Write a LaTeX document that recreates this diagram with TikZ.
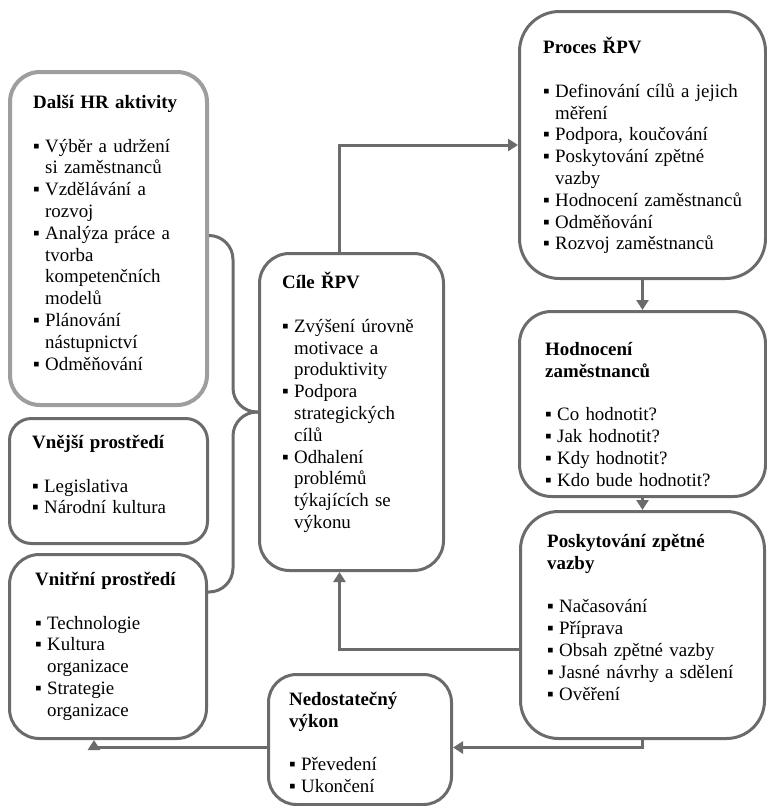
\documentclass[tikz,border=0pt]{standalone}
\usepackage{fontspec}
\setmainfont{Liberation Serif}
\usetikzlibrary{arrows.meta,positioning}

\definecolor{rama}{HTML}{6B6B6B}
\definecolor{svetla}{HTML}{9E9E9E}

% nadpis ramecku a odrazka
\newcommand{\nadpis}[1]{\strut\textbf{#1}\par\vspace{21.8pt}}
\newcommand{\pol}[1]{\par\noindent\hangindent=12pt\hangafter=1\makebox[12pt][l]{▪}#1\par}

\tikzset{
  ramec/.style={draw=rama,line width=3pt,rounded corners=30pt,anchor=north west,inner sep=0pt},
  popis/.style={anchor=north west,inner sep=0pt,text width=240pt,align=left,
    font=\fontsize{18.9pt}{21.8pt}\selectfont},
  sipka/.style={draw=rama,line width=3pt,-{Triangle[length=10pt,width=12pt]}},
  spoj/.style={draw=rama,line width=3pt}
}

\begin{document}
\begin{tikzpicture}[x=1pt,y=-1pt]
\useasboundingbox (0,0) rectangle (767,806);

% ramecky
\node[ramec,draw=svetla,line width=4pt,minimum width=197,minimum height=333] (hr) at (8,70) {};
\node[ramec,rounded corners=22pt,minimum width=198,minimum height=125] (vnejsi) at (8,417) {};
\node[ramec,minimum width=197,minimum height=184] (vnitrni) at (8,553) {};
\node[ramec,minimum width=184,minimum height=317] (cile) at (258,252) {};
\node[ramec,rounded corners=40pt,minimum width=246,minimum height=267] (proces) at (518,10) {};
\node[ramec,rounded corners=32pt,minimum width=246,minimum height=185] (hodn) at (518,310) {};
\node[ramec,rounded corners=38pt,minimum width=244,minimum height=227] (zpetna) at (519,510) {};
\node[ramec,rounded corners=28pt,minimum width=183,minimum height=130] (nedost) at (267,673) {};

% texty
\node[popis] (hrt) at ([shift={(25,23)}]hr.north west) {\nadpis{Další HR aktivity}
\pol{Výběr a udržení\newline si zaměstnanců}
\pol{Vzdělávání a\newline rozvoj}
\pol{Analýza práce a\newline tvorba\newline kompetenčních\newline modelů}
\pol{Plánování\newline nástupnictví}
\pol{Odměňování}};
\node[popis] (vnejsit) at ([shift={(24,16)}]vnejsi.north west) {\nadpis{Vnější prostředí}
\pol{Legislativa}
\pol{Národní kultura}};
\node[popis] (vnitrnit) at ([shift={(27,17)}]vnitrni.north west) {\nadpis{Vnitřní prostředí}
\pol{Technologie}
\pol{Kultura\newline organizace}
\pol{Strategie\newline organizace}};
\node[popis] (cilet) at ([shift={(24,20)}]cile.north west) {\nadpis{Cíle ŘPV}
\pol{Zvýšení úrovně\newline motivace a\newline produktivity}
\pol{Podpora\newline strategických\newline cílů}
\pol{Odhalení\newline problémů\newline týkajících se\newline výkonu}};
\node[popis] (procest) at ([shift={(25,27)}]proces.north west) {\nadpis{Proces ŘPV}
\pol{Definování cílů a jejich\newline měření}
\pol{Podpora, koučování}
\pol{Poskytování zpětné\newline vazby}
\pol{Hodnocení zaměstnanců}
\pol{Odměňování}
\pol{Rozvoj zaměstnanců}};
\node[popis] (hodnt) at ([shift={(27,30)}]hodn.north west) {\nadpis{Hodnocení\newline zaměstnanců}
\pol{Co hodnotit?}
\pol{Jak hodnotit?}
\pol{Kdy hodnotit?}
\pol{Kdo bude hodnotit?}};
\node[popis] (zpetnat) at ([shift={(28,22)}]zpetna.north west) {\nadpis{Poskytování zpětné\newline vazby}
\pol{Načasování}
\pol{Příprava}
\pol{Obsah zpětné vazby}
\pol{Jasné návrhy a sdělení}
\pol{Ověření}};
\node[popis] (nedostt) at ([shift={(22,17)}]nedost.north west) {\nadpis{Nedostatečný\newline výkon}
\pol{Převedení}
\pol{Ukončení}};

% sipky
\draw[sipka] ([xshift=-12pt]cile.north) |- (proces.west);
\draw[sipka] (proces.south) -- (hodn.north);
\draw[sipka] (hodn.south) -- (zpetna.north);
\draw[sipka] ([yshift=-24pt]zpetna.west) -| ([xshift=-12pt]cile.south);
\draw[sipka] (zpetna.south) |- ([yshift=-8pt]nedost.east);
\draw[sipka] ([yshift=-8pt]nedost.west) -| ([xshift=-14pt]vnitrni.south);

% slozena zavorka
\draw[spoj,rounded corners=24pt] ([yshift=3pt]hr.east) -| ([xshift=-25pt]cile.west) -- (cile.west);
\draw[spoj,rounded corners=24pt] (cile.west) -- ([xshift=-25pt]cile.west) |- ([yshift=-39pt]vnitrni.north east);
\end{tikzpicture}
\end{document}
